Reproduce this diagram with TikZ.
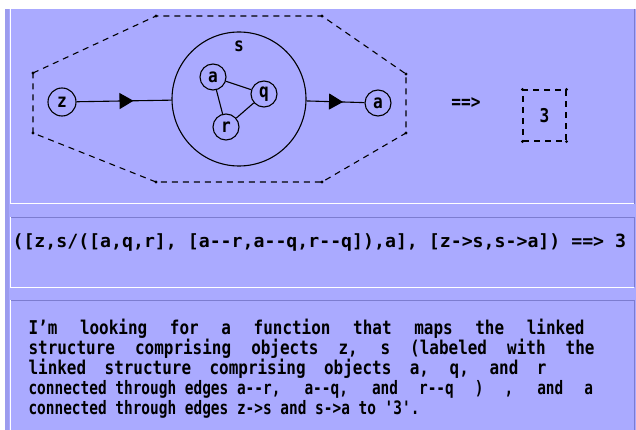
\documentclass[tikz,border=0pt]{standalone}
\usepackage{fontspec}
\newfontfamily\glyphmono{DejaVu Sans Mono}[FakeStretch=0.85]
\newfontfamily\bodymono{DejaVu Sans Mono}[FakeStretch=0.84]
\newfontfamily\lastmono{DejaVu Sans Mono}[FakeStretch=0.78]
\newfontfamily\widemono{DejaVu Sans Mono}
\usetikzlibrary{arrows.meta,decorations.markings}
\definecolor{panelfill}{HTML}{AAAAFF}
\definecolor{paneldark}{HTML}{7C7CD0}
\definecolor{stripfill}{HTML}{9C9CEE}
\newcommand\spreadline[2]{\makebox[#1][s]{#2}}

\begin{document}
\begin{tikzpicture}[x=1pt,y=-1pt,line width=1.1pt,
  letter/.style={font=\glyphmono\bfseries\fontsize{19}{19}\selectfont},
  obj/.style={letter,draw,circle,inner sep=0pt,minimum size=26pt},
  frame/.style={dashed,dash pattern=on 6pt off 5pt},
  midarrow/.style={postaction={decorate},decoration={markings,
    mark=at position #1 with {\arrow{Triangle[length=14pt,width=16pt]}}}},
  textline/.style={font=\bodymono\bfseries\fontsize{19}{20}\selectfont,anchor=base west,inner sep=0pt},
  lastline/.style={textline,font=\lastmono\bfseries\fontsize{18.5}{20}\selectfont}]
\useasboundingbox (0,0) rectangle (636,430);
% panels
\fill[white] (0,0) rectangle (636,430);
\fill[panelfill] (5,9) rectangle (636,430);
\fill[stripfill] (5,9) rectangle (9,430);
\draw[white,line width=1pt] (10,9) -- (10,204) -- (634,204);
\draw[paneldark,line width=1pt] (634,9) -- (634,204);
\draw[paneldark,line width=1pt] (10,217) -- (634,217) -- (634,287);
\draw[white,line width=1pt] (10,217) -- (10,287) -- (634,287);
\draw[paneldark,line width=1pt] (10,300) -- (634,300) -- (634,430);
\draw[white,line width=1pt] (10,300) -- (10,430);

% structure boundary
\coordinate (h1) at (33,73); \coordinate (h2) at (156,16); \coordinate (h3) at (322,16); \coordinate (h4) at (406,74);
\coordinate (h5) at (406,133); \coordinate (h6) at (322,182); \coordinate (h7) at (156,182); \coordinate (h8) at (33,133);
\draw[frame] (h1)--(h2)--(h3)--(h4)--(h5)--(h6)--(h7)--(h8)--cycle;
\foreach \h in {h1,h2,h3,h4,h5,h6,h7,h8} \fill (\h) circle (1.6pt);

% objects
\node[obj,minimum size=28pt] (z) at (62,102) {z};
\node[draw,circle,minimum size=134pt,inner sep=0pt] (s) at (239,99) {};
\node[letter] (slabel) at (239,46) {s};
\node[obj] (ia) at (213,77) {a};
\node[obj] (iq) at (264,94) {q};
\node[obj] (ir) at (226,127) {r};
\node[obj] (aout) at (378,103) {a};
\draw (ia) -- (iq); \draw (ia) -- (ir); \draw (ir) -- (iq);
\draw[midarrow=0.6] (z) -- (s);
\draw[midarrow=0.63] (s) -- (aout);

% result
\node[letter] (maps) at (466,103) {==>};
\node[letter,draw,frame,minimum width=43pt,minimum height=51pt] (res) at (544.5,115.5) {3};
\coordinate (r1) at (res.north west); \coordinate (r2) at (res.north east);
\coordinate (r3) at (res.south east); \coordinate (r4) at (res.south west);
\foreach \r in {r1,r2,r3,r4} \fill (\r) circle (1.6pt);

% texts
\node[font=\widemono\bfseries\fontsize{18.2}{20}\selectfont,anchor=west,inner sep=0pt] (formula) at (12,242)
  {([z,s/([a,q,r], [a--r,a--q,r--q]),a], [z->s,s->a]) ==> 3};
\node[textline] (l1) at (28,334) {\spreadline{556pt}{I’m looking for a function that maps the linked}};
\node[textline] (l2) at (28,354) {\spreadline{566pt}{structure comprising objects z, s (labeled with the}};
\node[textline] (l3) at (28,374) {\spreadline{518pt}{linked structure comprising objects a, q, and r}};
\node[lastline] (l4) at (28,394) {connected through edges \spreadline{356pt}{a--r, a--q, and r--q ) , and a}};
\node[lastline] (l5) at (28,414) {connected through edges z->s and s->a to '3'.};
\end{tikzpicture}
\end{document}
